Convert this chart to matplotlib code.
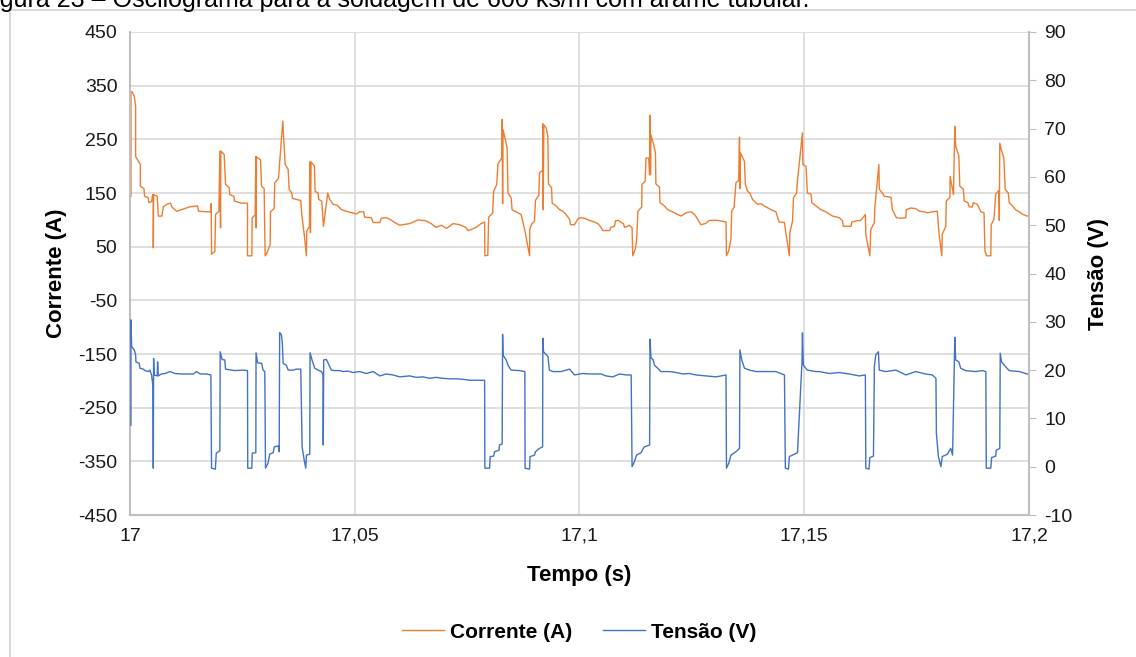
import matplotlib
matplotlib.use("Agg")
import matplotlib.pyplot as plt
from matplotlib.patches import Rectangle
from matplotlib.ticker import FuncFormatter

plt.rcParams["font.family"] = ["Liberation Sans", "DejaVu Sans"]
plt.rcParams["axes.unicode_minus"] = False

T0 = 17.0  # s, inicio da janela

# Corrente (A) - instantes em ms a partir de 17 s
corrente_t_ms = [
    0.22, 0.22, 0.52, 0.96, 1.26, 1.26, 2.07, 2.30, 2.30, 3.11, 3.26, 4.07, 4.22, 4.81, 5.04, 5.19, 5.19, 5.26,
    6.07, 6.30, 7.11, 7.41, 8.15, 9.04, 9.33, 10.37, 11.48, 13.19, 15.04, 15.26, 17.04, 17.93, 18.07, 18.15,
    18.89, 19.04, 19.78, 20.0, 20.15, 20.22, 20.96, 21.26, 22.07, 22.22, 23.11, 23.26, 24.81, 26.15, 26.15,
    27.11, 27.19, 27.85, 28.0, 28.07, 28.15, 29.04, 29.26, 29.85, 30.07, 30.37, 31.19, 31.26, 32.07, 32.22,
    33.04, 33.33, 34.0, 34.52, 35.19, 35.41, 36.0, 36.15, 38.0, 38.22, 38.81, 39.26, 39.33, 39.93, 40.0, 40.15,
    40.3, 41.04, 41.19, 41.85, 42.0, 42.67, 43.04, 44.0, 44.44, 45.19, 46.15, 47.04, 48.52, 49.48, 50.37,
    51.1, 52.0, 52.2, 53.7, 54.1, 55.6, 55.9, 57.0, 57.8, 58.9, 60.0, 62.2, 64.1, 65.9, 67.0, 68.1, 69.3, 70.4,
    71.9, 73.3, 74.7, 75.2, 75.9, 77.0, 78.1, 78.9, 78.95, 79.6, 79.8, 80.7, 80.9, 81.6, 81.85, 82.7, 82.8,
    82.9, 83.0, 83.5, 83.9, 84.1, 84.8, 85.0, 85.9, 87.0, 87.8, 88.9, 88.95, 89.3, 90.0, 90.2, 90.96, 91.1,
    91.8, 91.85, 91.93, 92.07, 92.6, 92.96, 93.1, 93.78, 93.93, 94.8, 95.56, 96.3, 97.0, 97.8, 98.0, 98.9,
    99.6, 100.0, 101.1, 102.2, 103.3, 104.1, 104.8, 105.2, 106.7, 107.0, 107.8, 108.0, 108.7, 109.3, 109.8,
    110.0, 110.7, 111.1, 111.7, 111.85, 112.4, 112.7, 113.0, 113.85, 113.9, 114.6, 114.8, 115.4, 115.6,
    115.7, 115.8, 115.9, 116.4, 116.9, 117.0, 117.8, 117.9, 118.9, 119.6, 120.7, 121.85, 122.6, 123.7,
    124.8, 125.6, 126.3, 127.0, 128.0, 128.9, 130.7, 131.5, 132.6, 132.7, 133.2, 133.7, 133.85, 134.4,
    134.8, 135.4, 135.6, 135.7, 135.8, 136.7, 136.9, 137.4, 137.9, 138.5, 139.6, 140.4, 141.1, 142.6,
    143.7, 144.4, 145.6, 145.9, 146.7, 146.8, 147.4, 147.6, 148.3, 148.5, 149.6, 149.7, 150.4, 150.7,
    151.5, 151.7, 152.6, 153.7, 154.8, 156.3, 157.8, 158.5, 158.7, 160.4, 160.6, 161.6, 162.6, 163.6,
    163.7, 164.6, 164.8, 165.6, 165.7, 166.6, 166.7, 167.4, 167.8, 169.3, 169.6, 170.5, 171.5, 172.6,
    172.7, 173.7, 174.8, 175.6, 176.7, 177.4, 178.5, 179.6, 180.0, 180.6, 180.7, 181.5, 181.6, 182.4,
    182.45, 183.2, 183.5, 183.7, 184.4, 184.6, 185.4, 185.6, 186.4, 186.7, 187.4, 187.6, 188.5, 189.3,
    190.0, 190.2, 190.6, 191.5, 191.6, 192.2, 192.6, 193.3, 193.4, 193.5, 193.9, 194.4, 194.7, 195.4,
    195.6, 196.3, 197.0, 197.8, 198.7, 199.6, 200.0,
]
corrente_a = [
    144, 339, 338, 330, 312, 218, 206, 203, 163, 158, 144, 141, 132, 134, 147, 147, 48, 147,
    144, 107, 107, 124, 129, 131, 124, 116, 119, 124, 126, 116, 115, 115, 130, 36,
    41, 110, 116, 228, 85, 228, 222, 166, 160, 147, 144, 135, 131, 131, 33,
    33, 104, 109, 218, 85, 217, 212, 163, 158, 33, 36, 54, 115, 121, 169,
    177, 209, 284, 203, 194, 157, 150, 140, 136, 110, 70, 33, 79, 88, 208, 76,
    208, 200, 153, 150, 138, 135, 88, 150, 138, 129, 127, 119, 115, 113, 111,
    115, 115, 105, 104, 95, 95, 103, 104, 101, 95, 90, 93, 100, 98, 93, 86, 90, 84,
    93, 91, 86, 80, 82, 86, 93, 96, 33, 34, 105, 113, 153, 166, 204, 215, 287,
    130, 268, 250, 234, 150, 141, 119, 115, 110, 82, 33, 82, 91, 98, 136, 146, 188,
    192, 279, 119, 277, 271, 256, 167, 160, 131, 126, 119, 116, 110, 101, 91, 91,
    101, 104, 103, 99, 96, 93, 86, 80, 80, 86, 88, 98, 99, 95, 93,
    86, 88, 90, 85, 33, 45, 60, 116, 124, 166, 172, 215, 215, 184,
    295, 184, 258, 243, 225, 167, 161, 132, 126, 119, 115, 110, 107, 113,
    115, 110, 101, 91, 93, 99, 99, 98, 96, 33, 42, 64, 116, 124,
    169, 173, 254, 158, 225, 209, 166, 153, 150, 138, 129, 130, 126, 119,
    115, 96, 95, 76, 33, 76, 98, 141, 150, 173, 262, 203, 200, 150,
    148, 132, 126, 119, 115, 107, 104, 98, 88, 88, 96, 98, 99, 110,
    73, 33, 82, 95, 122, 203, 157, 150, 144, 142, 119, 104, 103, 104,
    119, 122, 121, 116, 115, 113, 115, 116, 73, 33, 73, 88, 135, 142,
    181, 147, 274, 237, 219, 163, 157, 135, 132, 124, 124, 132, 129, 115,
    113, 42, 33, 33, 91, 101, 148, 155, 99, 243, 229, 215, 157, 150,
    132, 126, 119, 115, 110, 107, 107,
]

# Tensao (V) - instantes em ms a partir de 17 s
tensao_t_ms = [
    0.22, 0.22, 0.37, 0.96, 1.26, 1.33, 2.07, 2.22, 2.96, 3.33, 4.07, 4.44, 4.81, 5.11, 5.19, 5.26, 5.4,
    6.07, 6.15, 6.3, 7.0, 7.8, 8.9, 10.0, 11.5, 12.6, 14.1, 14.8, 15.6, 17.0, 18.0, 18.15, 19.0, 19.2, 20.0,
    20.07, 20.5, 21.1, 21.26, 22.6, 23.3, 25.2, 26.15, 26.2, 27.1, 27.2, 28.0, 28.05, 28.4, 29.3, 29.6,
    30.0, 30.15, 30.7, 31.1, 31.85, 32.1, 33.0, 33.2, 33.3, 33.7, 33.9, 34.07, 34.8, 35.2, 36.3, 37.0,
    38.0, 38.1, 38.3, 38.7, 39.1, 39.26, 40.0, 40.07, 40.5, 41.1, 41.85, 42.6, 42.96, 43.0, 43.1, 43.7,
    44.1, 44.8, 45.6, 46.7, 47.4, 48.5, 49.6, 51.1, 52.6, 54.1, 55.6, 57.0, 58.5, 60.0, 62.2, 63.7, 65.2,
    66.7, 68.1, 69.6, 71.1, 72.6, 74.1, 75.6, 78.9, 78.95, 80.0, 80.15, 80.9, 81.1, 82.1, 82.2, 82.8,
    82.9, 83.0, 83.7, 84.1, 84.8, 86.7, 87.85, 87.9, 88.9, 89.0, 90.0, 90.2, 91.1, 91.8, 91.85, 92.0,
    93.0, 93.3, 94.1, 95.9, 97.8, 98.9, 100.7, 102.2, 104.8, 105.9, 107.4, 108.9, 110.4, 111.5, 111.7,
    112.2, 112.7, 113.7, 114.4, 115.6, 115.7, 115.9, 116.4, 116.7, 117.4, 118.1, 120.0, 121.5, 123.0,
    124.4, 125.9, 128.1, 130.4, 132.6, 132.7, 133.2, 133.7, 134.8, 135.6, 135.7, 136.1, 136.7, 137.8,
    139.3, 141.5, 143.7, 144.8, 145.6, 145.8, 146.5, 146.7, 147.8, 148.5, 149.5, 149.6, 149.8, 150.7,
    152.6, 153.3, 155.6, 157.8, 160.0, 162.2, 163.6, 163.7, 164.4, 164.6, 165.4, 165.6, 165.9, 166.5,
    166.7, 168.1, 170.4, 172.6, 174.8, 177.0, 178.5, 179.3, 179.4, 179.85, 180.4, 180.7, 181.85, 182.6,
    183.0, 183.5, 183.7, 184.4, 184.8, 185.9, 188.1, 189.6, 190.4, 190.5, 191.5, 191.7, 192.6, 192.7,
    193.5, 193.6, 193.9, 194.8, 195.6, 197.8, 199.6, 200.0,
]
tensao_v = [
    8.6, 30.4, 24.9, 24.2, 23.1, 21.7, 21.4, 20.4, 20.2, 19.9, 19.7, 20.0, 19.0, 16.7, -0.3, 22.4, 19.0,
    18.8, 21.7, 18.8, 19.2, 19.3, 19.7, 19.3, 19.2, 19.2, 19.2, 19.7, 19.2, 19.2, 19.0, -0.3, -0.5, 2.8, 3.3,
    23.8, 22.2, 22.1, 20.2, 20.0, 19.9, 20.0, 19.9, -0.3, -0.3, 2.8, 2.9, 23.6, 21.5, 21.4, 20.0,
    19.7, -0.3, 0.7, 2.6, 2.9, 4.1, 4.3, 3.1, 27.8, 27.3, 25.5, 21.4, 21.0, 20.0, 20.0, 20.2,
    20.2, 15.2, 4.1, 1.7, -0.3, 2.4, 2.6, 23.6, 22.1, 20.4, 20.0, 19.7, 19.0, 4.5, 22.1, 22.2,
    21.4, 20.0, 19.9, 19.9, 19.7, 19.8, 19.5, 19.7, 19.3, 19.7, 18.8, 19.2, 19.0, 18.6, 18.8, 18.5, 18.6,
    18.3, 18.5, 18.3, 18.2, 18.2, 18.1, 17.9, 17.9, -0.3, -0.3, 2.1, 2.2, 3.1, 3.4, 4.5, 4.7,
    27.4, 23.1, 22.1, 21.0, 20.0, 19.9, 19.7, -0.3, -0.5, 2.1, 2.4, 3.1, 3.8, 4.1, 26.6, 23.8,
    22.8, 20.0, 19.7, 19.7, 20.2, 19.0, 19.3, 19.2, 19.2, 18.8, 18.6, 19.2, 19.0, 19.0, 0.0,
    1.0, 2.4, 2.9, 4.1, 4.5, 26.4, 22.6, 22.1, 21.0, 20.4, 19.7, 19.7, 19.5, 19.2,
    19.3, 19.0, 18.8, 18.6, 19.0, -0.3, 0.7, 2.4, 3.1, 3.8, 24.2, 22.1, 20.4, 20.0,
    19.7, 19.7, 19.7, 19.3, 19.0, -0.3, -0.5, 2.1, 2.6, 2.9, 21.7, 27.7, 21.0, 20.0,
    19.7, 19.7, 19.3, 19.5, 19.2, 18.8, 19.0, -0.3, -0.5, 1.9, 2.2, 20.7, 23.1, 23.8,
    20.0, 19.7, 20.0, 19.0, 19.7, 19.2, 19.0, 18.3, 6.9, 2.1, 0.0, 2.1, 2.6, 3.8,
    2.4, 26.8, 22.1, 21.7, 20.4, 19.9, 19.7, 19.9, 19.7, -0.3, -0.3, 1.9, 2.2, 3.4,
    3.8, 23.5, 21.7, 20.7, 19.9, 19.7, 19.2, 19.2,
]

x_ticks = [17.0, 17.05, 17.1, 17.15, 17.2]

LARANJA = "#ED7D31"
AZUL = "#4472C4"
GRADE = "#d9d9d9"
EIXO = "#bfbfbf"

fig = plt.figure(figsize=(11.36, 6.57), dpi=100)

# moldura do grafico e legenda da figura (cortada no topo da pagina)
fig.add_artist(Rectangle((0.0088, -0.1), 1.2, 1.0848, transform=fig.transFigure,
                         fill=False, edgecolor=GRADE, lw=1.5, clip_on=False))
fig.text(-0.0185, 0.989, "Figura 23 \u2013 Oscilograma para a soldagem de 600 ks/m com arame tubular.",
         fontsize=18, ha="left", va="baseline")

ax = fig.add_axes([0.1144, 0.2161, 0.7914, 0.7352])
ax2 = ax.twinx()

t_corr = [T0 + v / 1000 for v in corrente_t_ms]
t_tens = [T0 + v / 1000 for v in tensao_t_ms]
l1, = ax.plot(t_corr, corrente_a, color=LARANJA, lw=1.0, label="Corrente (A)")
l2, = ax2.plot(t_tens, tensao_v, color=AZUL, lw=1.0, label="Tens\u00e3o (V)")

ax.set_xlim(17.0, 17.2)
ax.set_ylim(-450, 450)
ax.set_yticks(range(-450, 451, 100))
ax.set_xticks(x_ticks)
ax.xaxis.set_major_formatter(FuncFormatter(lambda v, p: f"{v:g}".replace(".", ",")))
ax2.set_ylim(-10, 90)
ax2.set_yticks(range(-10, 91, 10))

ax.grid(True, color=GRADE, lw=1.2)
ax.set_axisbelow(True)

for a in (ax, ax2):
    a.spines["top"].set_visible(False)
    for s in ("left", "bottom", "right"):
        a.spines[s].set_color(EIXO)
        a.spines[s].set_linewidth(1.5)
ax.spines["right"].set_visible(False)
ax2.spines["left"].set_visible(False)
ax2.spines["bottom"].set_visible(False)

ax.tick_params(axis="both", length=0, labelsize=14, colors="#1a1a1a")
ax.tick_params(axis="y", pad=9)
ax.tick_params(axis="x", pad=9)
ax2.tick_params(axis="y", length=5, color=EIXO, labelsize=14, labelcolor="#1a1a1a", pad=6)

ax.set_xlabel("Tempo (s)", fontsize=16, fontweight="bold")
ax.set_ylabel("Corrente (A)", fontsize=16, fontweight="bold")
ax2.set_ylabel("Tens\u00e3o (V)", fontsize=16, fontweight="bold")
ax.xaxis.set_label_coords(0.5, -0.103)
ax.yaxis.set_label_coords(-0.07, 0.5)
ax2.yaxis.set_label_coords(1.0656, 0.5)

fig.legend([l1, l2], ["Corrente (A)", "Tens\u00e3o (V)"], loc="center", bbox_to_anchor=(0.51, 0.038),
           ncol=2, frameon=False, prop={"weight": "bold", "size": 15},
           handlelength=2.0, handletextpad=0.3, columnspacing=1.5)

fig.savefig("out.png", dpi=100)
